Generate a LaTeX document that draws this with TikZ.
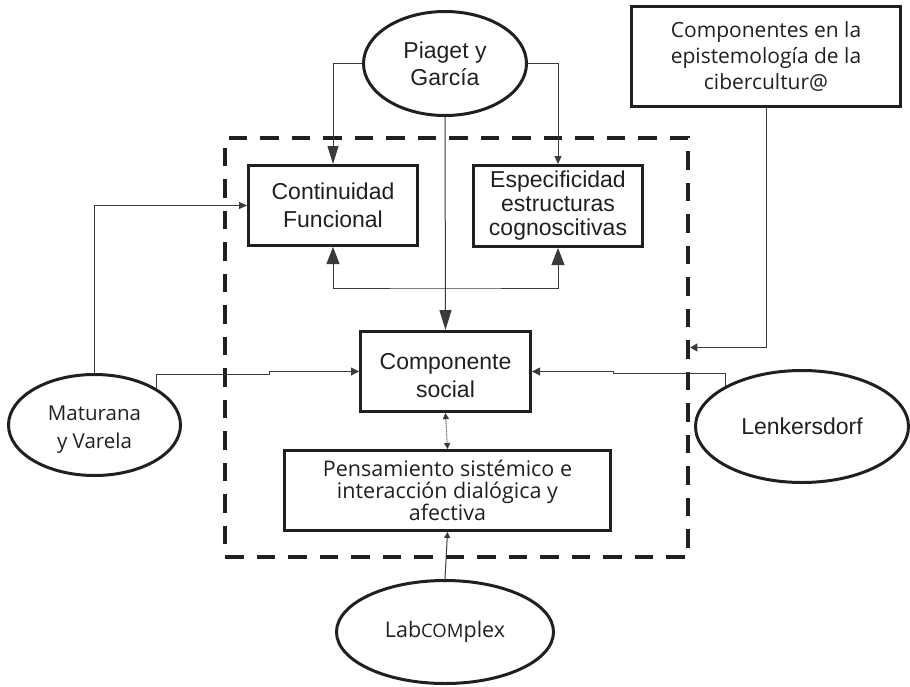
\documentclass[tikz,border=0pt]{standalone}
\usepackage{fontspec}
\setmainfont{Liberation Sans}
\newfontfamily\myriad{Open Sans}
\usetikzlibrary{shapes.geometric,arrows.meta}
\definecolor{ink}{HTML}{231F20}
\definecolor{wirec}{HTML}{3A3A3A}

\begin{document}
\begin{tikzpicture}[x=1pt,y=-1pt,
  box/.style={draw=ink,line width=3pt,rectangle,inner sep=0pt,align=center,text=ink},
  oval/.style={draw=ink,line width=3pt,ellipse,inner sep=0pt,align=center,text=ink},
  arialtxt/.style={font=\fontsize{23}{28}\selectfont},
  myrtxt/.style={font=\myriad\fontsize{21}{26}\selectfont},
  wire/.style={draw=wirec,line width=1pt},
  tipsmall/.style={-{Triangle[length=8pt,width=8pt]}},
  frame/.style={draw=ink,line width=4.5pt,dash pattern=on 18.5pt off 13pt,rectangle,inner sep=0pt}
]
\useasboundingbox (0,0) rectangle (910,686);

% dashed frame around the core components
\node[frame,minimum width=463pt,minimum height=419pt] (frame) at (456.5,347.5) {};

% boxes
\node[box,arialtxt,minimum width=169pt,minimum height=80pt] (cont) at (333,205.5) {Continuidad\\Funcional};
\node[box,font=\fontsize{23}{24}\selectfont,minimum width=169pt,minimum height=81pt] (esp) at (558,206) {Especificidad\\estructuras\\cognoscitivas};
\node[box,arialtxt,minimum width=170pt,minimum height=80pt] (social) at (445.5,371.5) {\rule{0pt}{25pt}Componente\\social};
\node[box,font=\myriad\fontsize{21.5}{21.5}\selectfont,minimum width=326pt,minimum height=80pt] (pens) at (447.5,490.5) {Pensamiento sistémico e\\interacción dialógica y\\afectiva};
\node[box,myrtxt,minimum width=269pt,minimum height=100pt] (comp) at (766,56.5) {Componentes en la\\epistemología de la\\cibercultur@};

% authors
\node[oval,font=\fontsize{23}{27}\selectfont,minimum width=163pt,minimum height=104pt] (piaget) at (445,63.5) {Piaget y\\García};
\node[oval,font=\myriad\fontsize{20.5}{28}\selectfont,minimum width=172pt,minimum height=101pt] (matur) at (94.5,425) {\rule{0pt}{24pt}Maturana\\y Varela};
\node[oval,arialtxt,minimum width=213pt,minimum height=112pt] (lenk) at (802,426.5) {Lenkersdorf};
\node[oval,font=\myriad\fontsize{21.5}{26}\selectfont,minimum width=217pt,minimum height=103pt] (labc) at (445,632) {Lab{\fontsize{18.5}{18.5}\selectfont COM}plex};

% bend points
\coordinate (bar) at (445,288);
\coordinate (mj) at (269,374);
\coordinate (lj) at (613,373);

% connectors
\draw[wire,-{Triangle[length=18pt,width=11pt]}] (piaget.west) -| (cont.north);
\draw[wire,-{Triangle[length=8pt,width=7pt]}] (piaget.east) -| (esp.north);
\draw[wire,-{Triangle[length=20pt,width=12pt]}] (piaget.south) -- (social.north);
\draw[wire,{Triangle[length=17pt,width=13pt]}-{Triangle[length=17pt,width=13pt]}] (cont.south) |- (bar) -| (esp.south);
\draw[wire,-{Triangle[length=8pt,width=7pt]}] (matur.north) |- (cont.west);
\draw[wire,tipsmall] (matur.north east) |- (mj) |- (social.west);
\draw[wire,tipsmall] (lenk.north west) |- (lj) |- (social.east);
\draw[wire,-{Triangle[length=7pt,width=8pt]}] (comp.south) |- (frame.east);
\draw[wire,dash pattern=on 1pt off 1pt,{Triangle[length=6pt,width=6pt]}-{Triangle[length=6pt,width=6pt]}] (social.south) -- (pens.north);
\draw[wire,-{Triangle[length=6pt,width=6pt]}] (labc.north) -- (pens.south);
\end{tikzpicture}
\end{document}
